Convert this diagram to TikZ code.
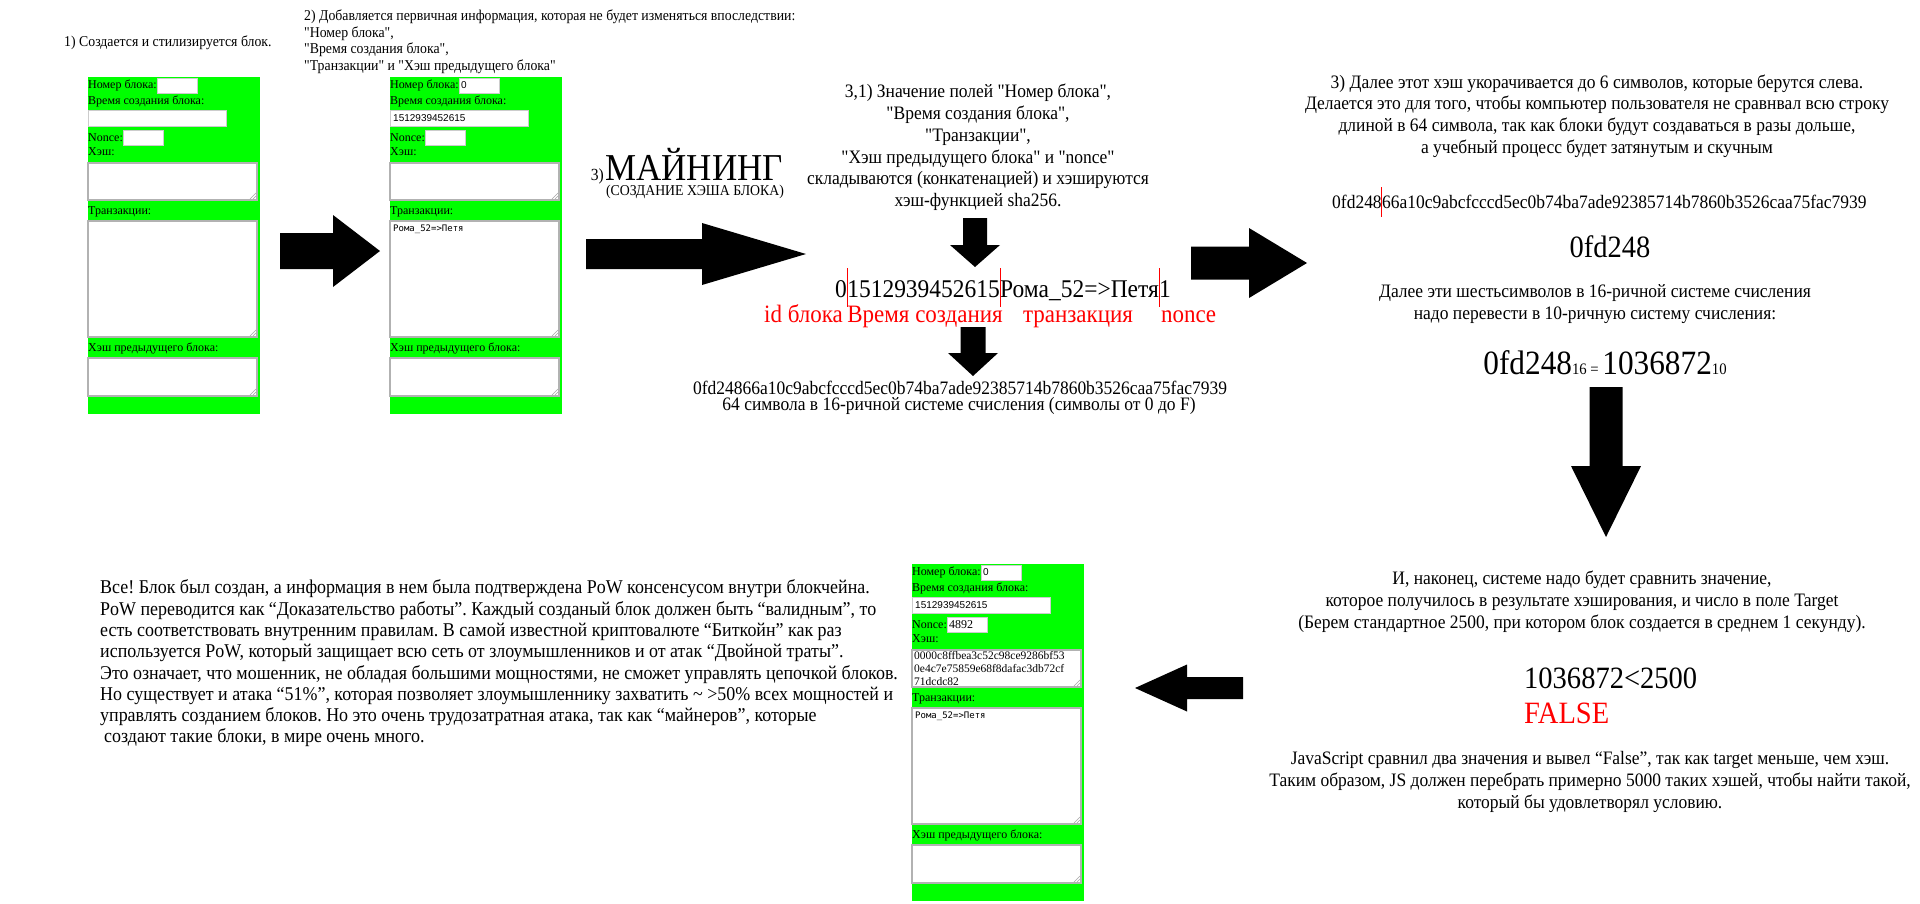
\documentclass[tikz,border=0pt]{standalone}
\usepackage{fontspec}
\setmainfont{Liberation Serif}
\newfontfamily\minion{Liberation Serif}[FakeStretch=0.92]
\newfontfamily\formsans{Liberation Sans}
\newfontfamily\formmono{DejaVu Sans Mono}
\usetikzlibrary{positioning}
\definecolor{formgreen}{RGB}{0,255,0}
\frenchspacing

\begin{document}
\begin{tikzpicture}[x=1pt, y=-1pt,
    formlbl/.style={inner sep=0, anchor=west, font=\fontsize{12}{14}\selectfont},
    inbox/.style={draw=gray!40, fill=white, line width=1pt},
    tarea/.style={draw=gray!60, fill=white, line width=1.2pt},
    grip/.style={draw=gray!70, line width=0.6pt},
    insans/.style={inner sep=0, anchor=west, font=\formsans\fontsize{10}{12}\selectfont},
    note/.style={inner sep=0, align=left, font=\minion\fontsize{15}{16.5}\selectfont},
    body/.style={inner sep=0, align=center, font=\minion\fontsize{19}{21.8}\selectfont},
    concat/.style={inner sep=0, font=\minion\fontsize{25.5}{28}\selectfont},
    redlbl/.style={inner sep=0, text=red, font=\minion\fontsize{25}{28}\selectfont},
    redbar/.style={draw=red, line width=1pt},
    bignum/.style={inner sep=0, font=\minion\fontsize{31}{34}\selectfont},
    pics/fatarr/.style n args={4}{code={
      \fill[black] (0,-#2) -- (#1,-#2) -- (#1,-#4) -- ({#1+#3},0) -- (#1,#4) -- (#1,#2) -- (0,#2) -- cycle;
    }},
    pics/webform/.style n args={5}{code={
      \fill[formgreen] (0,0) rectangle (172,337);
      \node[formlbl] (-lnum) at (0,8) {Номер блока:};
      \draw[inbox] (69,1) rectangle (109,16);
      \node[insans] (-vnum) at (71,8.5) {#1};
      \node[formlbl] (-ltime) at (0,24) {Время создания блока:};
      \draw[inbox] (0,33) rectangle (138,49);
      \node[insans] (-vtime) at (3,41) {#2};
      \node[formlbl] (-lnonce) at (0,61) {Nonce:};
      \draw[inbox] (35,53) rectangle (75,68);
      \node[formlbl] (-vnonce) at (37,60.5) {#3};
      \node[formlbl] (-lhash) at (0,75) {Хэш:};
      \draw[tarea] (0,86) rectangle (169,123);
      \begin{scope}
        \clip (1,87) rectangle (168,122);
        \node[formlbl, anchor=north west, align=left, font=\fontsize{11.5}{13.3}\selectfont] (-vhash) at (2,87) {#4};
      \end{scope}
      \draw[grip] (162,122) -- (168,116) (165,122) -- (168,119);
      \node[formlbl] (-ltx) at (0,135) {Транзакции:};
      \draw[tarea] (0,144) rectangle (169,260);
      \node[inner sep=0, anchor=north west, font=\formmono\fontsize{9}{11}\selectfont] (-vtx) at (3,148) {#5};
      \draw[grip] (162,259) -- (168,253) (165,259) -- (168,256);
      \node[formlbl] (-lprev) at (0,271) {Хэш предыдущего блока:};
      \draw[tarea] (0,281) rectangle (169,319);
      \draw[grip] (162,318) -- (168,312) (165,318) -- (168,315);
    }}
]
\fill[white] (0,0) rectangle (1920,903);
\useasboundingbox (0,0) rectangle (1920,903);

% step 1 and 2: the form
\node[note, anchor=west] (s1) at (64,43) {1) Создается и стилизируется блок.};
\pic (blkA) at (88,77) {webform={}{}{}{}{}};
\pic at (280,251) {fatarr={53}{18}{47}{36}};

\node[note, anchor=west] (s2) at (304,41.5) {2) Добавляется первичная информация, которая не будет изменяться впоследствии:\\"Номер блока",\\"Время создания блока",\\"Транзакции" и "Хэш предыдущего блока"};
\pic (blkB) at (390,77) {webform={0}{1512939452615}{}{}{Рома\_52=>Петя}};
\pic at (586,254) {fatarr={116}{15}{104}{31}};

% mining
\node[inner sep=0, text depth=0pt, anchor=base west, font=\minion\fontsize{38}{40}\selectfont] (mine) at (605,180) {МАЙНИНГ};
\node[inner sep=0, anchor=base east, font=\minion\fontsize{17}{18}\selectfont] (mineno) at ([xshift=-1pt]mine.base west) {3)};
\node[inner sep=0, font=\minion\fontsize{15}{16}\selectfont] (minesub) at (695,192) {(СОЗДАНИЕ ХЭША БЛОКА)};

\node[body] (s31) at (978,147.5) {3,1) Значение полей "Номер блока",\\"Время создания блока",\\"Транзакции",\\"Хэш предыдущего блока" и "nonce"\\складываются (конкатенацией) и хэшируются\\хэш-функцией sha256.};
\pic[rotate=-90] at (975,218) {fatarr={27}{12}{22}{25}};

\node[concat, anchor=base west] (cId) at (835,297) {0};
\node[concat, anchor=base west] (cTime) at (cId.base east) {1512939452615};
\node[concat, anchor=base west] (cTx) at (cTime.base east) {Рома\_52=>Петя};
\node[concat, anchor=base west] (cNonce) at (cTx.base east) {1};
\foreach \n in {cTime,cTx,cNonce}
  \draw[redbar] (\n.west |- 0,268) -- (\n.west |- 0,307);

\node[redlbl, anchor=base west] (lTime) at (cTime.west |- 0,322) {Время создания};
\node[redlbl, anchor=base east] (lId) at ([xshift=-4pt]lTime.base west) {id блока};
\node[redlbl, anchor=base] (lTx) at (1078,322) {транзакция};
\node[redlbl, anchor=base west] (lNonce) at ([xshift=2pt]cNonce.west |- 0,322) {nonce};

\pic[rotate=-90] at (973,327) {fatarr={26}{12.5}{23}{25}};
\node[body] (hashA) at (960,388) {0fd24866a10c9abcfcccd5ec0b74ba7ade92385714b7860b3526caa75fac7939};
\node[body] (hashnote) at (959,406) {64 символа в 16-ричной системе счисления (символы от 0 до F)};

\pic at (1191,263) {fatarr={58}{16.5}{58}{35}};

% step 3: shortening
\node[body] (s3) at (1597,116) {3) Далее этот хэш укорачивается до 6 символов, которые берутся слева.\\Делается это для того, чтобы компьютер пользователя не сравнвал всю строку\\длиной в 64 символа, так как блоки будут создаваться в разы дольше,\\а учебный процесс будет затянутым и скучным};
\node[body, anchor=base west] (hashBl) at (1332,208.5) {0fd248};
\node[body, anchor=base west] (hashBr) at (hashBl.base east) {66a10c9abcfcccd5ec0b74ba7ade92385714b7860b3526caa75fac7939};
\draw[redbar] (hashBr.west |- 0,187) -- (hashBr.west |- 0,217);

\node[bignum] (short) at (1610,247) {0fd248};
\node[body] (conv) at (1595,304) {Далее эти шестьсимволов в 16-ричной системе счисления\\надо перевести в 10-ричную систему счисления:};
\node[inner sep=0, font=\minion\fontsize{34}{36}\selectfont] (convnum) at (1605,363) {0fd248{\fontsize{16}{18}\selectfont 16 = }1036872{\fontsize{16}{18}\selectfont 10}};
\pic[rotate=-90] at (1606,387) {fatarr={79}{16.5}{71}{35}};

% compare with target
\node[body] (cmpq) at (1582,602) {И, наконец, системе надо будет сравнить значение,\\которое получилось в результате хэширования, и число в поле Target\\(Берем стандартное 2500, при котором блок создается в среднем 1 секунду).};
\node[bignum, anchor=west] (cmp) at (1524,678) {1036872<2500};
\node[bignum, anchor=west, text=red] (res) at (1524,713) {FALSE};
\node[body] (js) at (1590,782) {JavaScript сравнил два значения и вывел “False”, так как target меньше, чем хэш.\\Таким образом, JS должен перебрать примерно 5000 таких хэшей, чтобы найти такой,\\который бы удовлетворял условию.};
\pic[rotate=180] at (1243,688) {fatarr={56}{11}{52}{23.5}};

% result
\pic (blkC) at (912,564) {webform={0}{1512939452615}{4892}{0000c8ffbea3c52c98ce9286bf53\\0e4c7e75859e68f8dafac3db72cf\\71dcdc82}{Рома\_52=>Петя}};
\node[inner sep=0, align=left, anchor=west, font=\minion\fontsize{19.5}{21.3}\selectfont] (fin) at (100,663.5) {Все! Блок был создан, а информация в нем была подтверждена PoW консенсусом внутри блокчейна.\\PoW переводится как “Доказательство работы”. Каждый созданый блок должен быть “валидным”, то\\есть соответствовать внутренним правилам. В самой известной криптовалюте “Биткойн” как раз\\используется PoW, который защищает всю сеть от злоумышленников и от атак “Двойной траты”.\\Это означает, что мошенник, не обладая большими мощностями, не сможет управлять цепочкой блоков.\\Но существует и атака “51\%”, которая позволяет злоумышленнику захватить \textasciitilde{} >50\% всех мощностей и\\управлять созданием блоков. Но это очень трудозатратная атака, так как “майнеров”, которые\\\hspace{4pt}создают такие блоки, в мире очень много.};
\end{tikzpicture}
\end{document}
